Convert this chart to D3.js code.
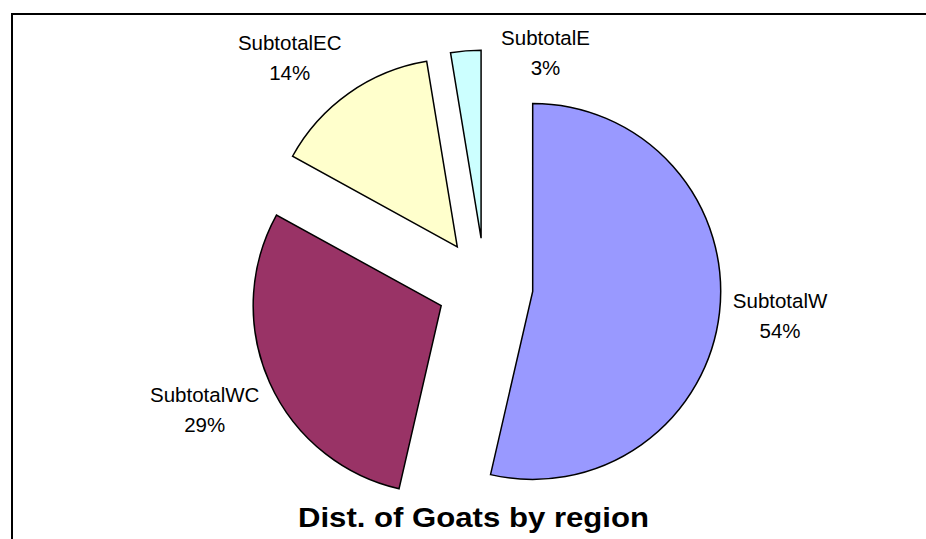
<!DOCTYPE html>
<html>
<head>
<meta charset="utf-8">
<script src="https://cdn.jsdelivr.net/npm/d3@7"></script>
<style>
  html, body { margin: 0; padding: 0; background: #fff; overflow: hidden; }
  svg { display: block; }
  text { font-family: "Liberation Sans", Arial, sans-serif; fill: #000; }
</style>
</head>
<body>
<svg id="chart" width="926" height="539"></svg>
<script>
// ---- data ----
const categories = ["SubtotalW", "SubtotalWC", "SubtotalEC", "SubtotalE"];
const values = [53.6, 29.4, 14.4, 2.6];
const colors = ["#9999FF", "#993366", "#FFFFCC", "#CCFFFF"];
const title = "Dist. of Goats by region";

// ---- layout ----
const cx = 485, cy = 286, R = 188, explode = 48, labelR = 300;

const svg = d3.select("#chart");

// frame
svg.append("rect")
  .attr("x", 12).attr("y", 14)
  .attr("width", 1000).attr("height", 1000)
  .attr("fill", "#fff")
  .attr("stroke", "#000")
  .attr("stroke-width", 2);

const total = d3.sum(values);
const pie = d3.pie().sort(null).value(d => d)(values);
const arc = d3.arc().innerRadius(0).outerRadius(R);

const g = svg.append("g").attr("transform", `translate(${cx},${cy})`);

g.selectAll("path.slice")
  .data(pie)
  .join("path")
  .attr("class", "slice")
  .attr("transform", d => {
    const a = (d.startAngle + d.endAngle) / 2;
    return `translate(${explode * Math.sin(a)},${-explode * Math.cos(a)})`;
  })
  .attr("d", arc)
  .attr("fill", (d, i) => colors[i])
  .attr("stroke", "#000")
  .attr("stroke-width", 1.5)
  .attr("stroke-linejoin", "miter");

// label positions: radial along slice mid-angle, then nudged to avoid collisions (as the original layout does)
const labelNudge = [[-3, -5], [-6.5, 0], [-22, 16], [85, 65]];
const fs = 20.5, lineGap = 30;
const labels = g.selectAll("g.lbl")
  .data(pie)
  .join("g")
  .attr("class", "lbl")
  .attr("transform", (d, i) => {
    const a = (d.startAngle + d.endAngle) / 2;
    const x = labelR * Math.sin(a) + labelNudge[i][0];
    const y = -labelR * Math.cos(a) + labelNudge[i][1];
    return `translate(${x},${y})`;
  });

labels.append("text")
  .attr("text-anchor", "middle")
  .attr("font-size", fs)
  .attr("y", -7)
  .text((d, i) => categories[i]);
labels.append("text")
  .attr("text-anchor", "middle")
  .attr("font-size", fs)
  .attr("y", -7 + lineGap)
  .text(d => Math.round(d.value / total * 100) + "%");

// title
svg.append("text")
  .attr("x", 473.5).attr("y", 527)
  .attr("text-anchor", "middle")
  .attr("font-size", 27)
  .attr("font-weight", "bold")
  .attr("textLength", 351)
  .attr("lengthAdjust", "spacingAndGlyphs")
  .text(title);
</script>
</body>
</html>
